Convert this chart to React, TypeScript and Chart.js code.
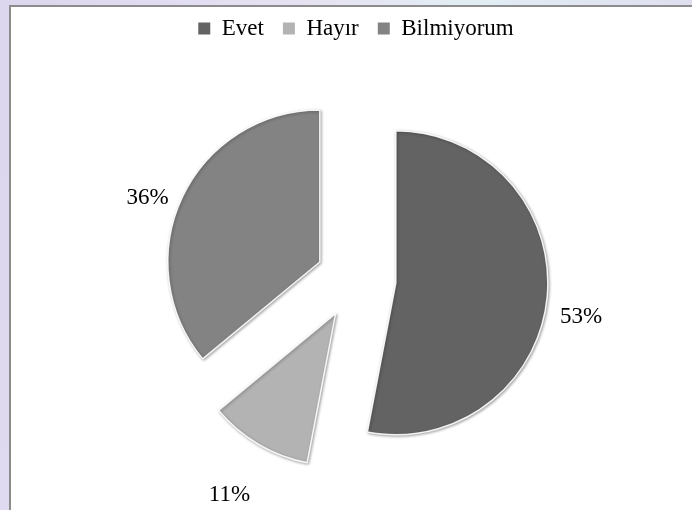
import React, { useEffect, useRef } from "react";
import { Chart, registerables } from "chart.js";

Chart.register(...registerables);

const categories = ["Evet", "Hayır", "Bilmiyorum"];
const values = [53, 11, 36];
const percentLabels = ["53%", "11%", "36%"];
const colors = ["#636363", "#b3b3b3", "#838383"];

const EXPLODE = 40;
const RADIUS = 152;
const FONT = "'Liberation Serif', 'Times New Roman', serif";

export default function App() {
  const ref = useRef<HTMLCanvasElement>(null);

  useEffect(() => {
    if (!ref.current) return;

    const explodePlugin = {
      id: "explodeFix",
      beforeDatasetsDraw(chart: any) {
        const meta = chart.getDatasetMeta(0);
        meta.data.forEach((el: any) => {
          if (el.__wrapped) return;
          const orig = el.draw;
          el.draw = function (ctx: CanvasRenderingContext2D, area: any) {
            const mid = (this.startAngle + this.endAngle) / 2;
            ctx.save();
            ctx.translate(Math.cos(mid) * EXPLODE, Math.sin(mid) * EXPLODE);
            orig.call(this, ctx, area);
            ctx.restore();
          };
          el.__wrapped = true;
        });
        const ctx = chart.ctx;
        ctx.save();
        ctx.shadowColor = "rgba(0,0,0,0.35)";
        ctx.shadowBlur = 3;
        ctx.shadowOffsetX = 1;
        ctx.shadowOffsetY = 1;
      },
      afterDatasetsDraw(chart: any, _args: any, opts: any) {
        const ctx = chart.ctx;
        ctx.restore();
        const meta = chart.getDatasetMeta(0);
        ctx.save();
        ctx.font = `23px ${FONT}`;
        ctx.fillStyle = "#000";
        ctx.textAlign = "center";
        ctx.textBaseline = "middle";
        meta.data.forEach((el: any, i: number) => {
          const mid = (el.startAngle + el.endAngle) / 2;
          const cx = el.x + Math.cos(mid) * EXPLODE;
          const cy = el.y + Math.sin(mid) * EXPLODE;
          const d = el.outerRadius + 35;
          const n = (opts.nudges && opts.nudges[i]) || [0, 0];
          ctx.fillText(percentLabels[i], cx + Math.cos(mid) * d + n[0], cy + Math.sin(mid) * d + n[1]);
        });
        ctx.restore();
      },
    };

    const chart = new Chart(ref.current, {
      type: "pie",
      data: {
        labels: categories,
        datasets: [
          {
            data: values,
            backgroundColor: colors,
            borderColor: "rgba(255,255,255,0.9)",
            borderWidth: 1.5,
            offset: 0,
            hoverOffset: 0,
          },
        ],
      },
      options: {
        animation: false,
        responsive: false,
        radius: RADIUS,
        layout: { padding: { top: -2, bottom: 2, left: 20, right: 0 } },
        plugins: {
          tooltip: { enabled: false },
          legend: {
            position: "top",
            labels: {
              boxWidth: 12,
              boxHeight: 12,
              padding: 19,
              color: "#000",
              font: { family: FONT, size: 23 },
              generateLabels: (c: any) =>
                (Chart as any).overrides.pie.plugins.legend.labels
                  .generateLabels(c)
                  .map((l: any) => ({ ...l, lineWidth: 0 })),
            },
          },
          explodeFix: { nudges: [[-1, 17], [-11, 21], [-3, 16]] },
        } as any,
      },
      plugins: [explodePlugin],
    });
    return () => chart.destroy();
  }, []);

  return (
    <div
      style={{
        position: "fixed",
        left: 0,
        top: 0,
        width: 692,
        height: 510,
        overflow: "hidden",
        background: "linear-gradient(100deg, #dcd6ee 0%, #e6e2f2 40%, #e2eef4 60%, #ddd8ee 100%)",
      }}
    >
      <div
        style={{
          position: "absolute",
          left: 9,
          top: 5,
          width: 700,
          height: 520,
          background: "#fff",
          borderLeft: "2px solid #8c8c8c",
          borderTop: "2px solid #8c8c8c",
          boxSizing: "border-box",
        }}
      />
      <canvas
        ref={ref}
        width={692}
        height={510}
        style={{ position: "absolute", left: 0, top: 0, width: 692, height: 510 }}
      />
    </div>
  );
}
